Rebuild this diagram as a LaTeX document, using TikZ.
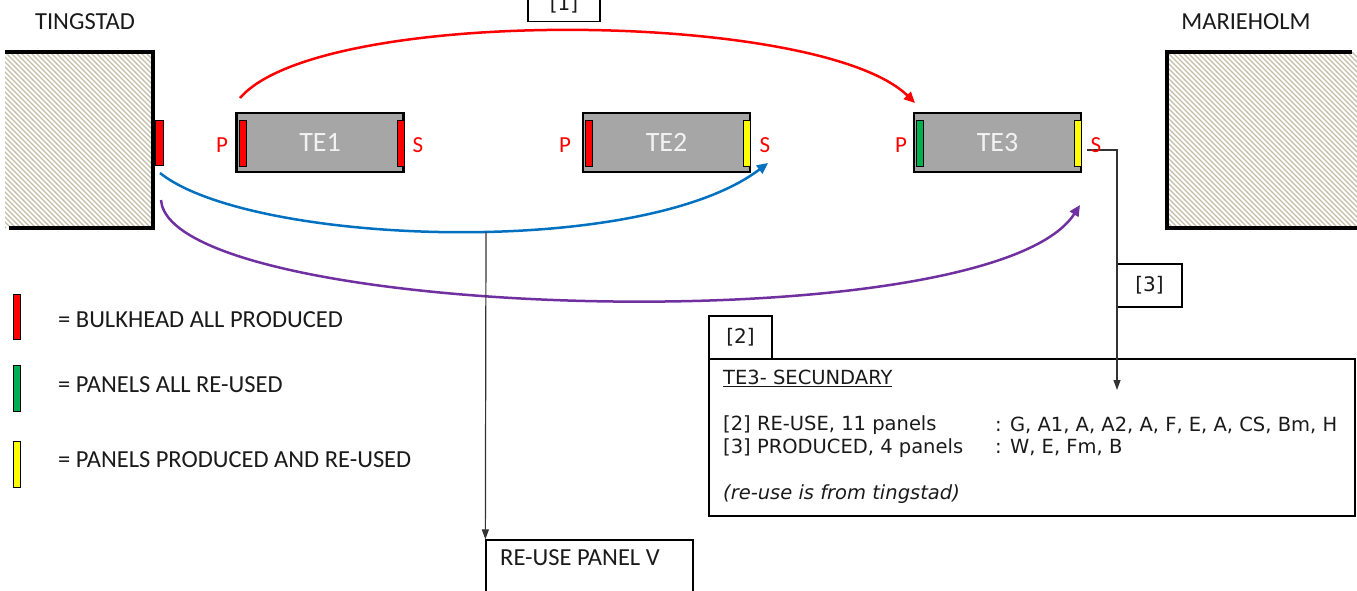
\documentclass[tikz,border=0pt]{standalone}
\usepackage{fontspec}
\setmainfont{Carlito}
\newfontfamily\tah{DejaVu Sans}
\usetikzlibrary{arrows.meta}
\definecolor{txt}{HTML}{1A1A1A}
\definecolor{tegray}{HTML}{A6A6A6}
\definecolor{tewhite}{HTML}{F2F2F2}
\definecolor{bred}{HTML}{FF0000}
\definecolor{bgreen}{HTML}{00B050}
\definecolor{byellow}{HTML}{FFFF00}
\definecolor{fblue}{HTML}{0070C0}
\definecolor{fpurple}{HTML}{7030A0}
\definecolor{hatch}{HTML}{C4BDA6}
\definecolor{dline}{HTML}{333333}
\begin{document}
\begin{tikzpicture}[x=1pt,y=-1pt,
  lbl/.style={font=\fontsize{24.5}{28}\selectfont, text=txt, inner sep=0},
  te/.style={draw=black, line width=2.5pt, fill=tegray, minimum width=167pt,
    minimum height=59pt, inner sep=0, text=tewhite, font=\fontsize{28}{32}\selectfont},
  bar/.style={draw=black, line width=0.8pt, minimum width=7pt, minimum height=46pt, inner sep=0},
  ps/.style={text=bred, font=\fontsize{23}{26}\selectfont, inner sep=0},
  flow/.style={line width=2.5pt, -{Triangle[length=11pt,width=10pt]}},
  conn/.style={line width=1.2pt, draw=dline, -{Triangle[length=10pt,width=7pt]}},
  tag/.style={draw=black, line width=1.8pt, minimum height=43pt, inner sep=0},
  tagtxt/.style={font=\tah\fontsize{20}{24}\selectfont, text=txt, inner sep=0},
  boxtxt/.style={font=\tah\fontsize{19.5}{23}\selectfont, text=txt, inner sep=0, anchor=west},
  hatchline/.style={draw=hatch, line width=1.2pt},
  wall/.style={line width=4pt, draw=black}
]
\useasboundingbox (0,0) rectangle (1357,590);

% site buildings, hatched
\begin{scope}
  \clip (5,52) rectangle (153,228);
  \foreach \i in {-180,-175,...,160} \draw[hatchline] (5+\i,52) -- ++(176,176);
\end{scope}
\draw[wall] (5,52) -| (153,228) -- (9,228);
\node[lbl] (ting) at (85,22) {TINGSTAD};
\node[bar, fill=bred, minimum width=8pt, minimum height=45pt] (tingbulk) at (159,142.5) {};

\begin{scope}
  \clip (1167,52) rectangle (1357,228);
  \foreach \i in {-180,-175,...,200} \draw[hatchline] (1167+\i,52) -- ++(176,176);
\end{scope}
\draw[wall] (1352,52) -- (1167,52) -- (1167,228) -- (1357,228);
\node[lbl] (marie) at (1246,22) {MARIEHOLM};

% transport units
\node[te] (te1) at (320,142.5) {TE1};
\node[bar, fill=bred] (te1p) at (242.5,143) {};
\node[bar, fill=bred] (te1s) at (400.5,143) {};
\node[ps] (p1) at (222,145) {P};
\node[ps] (s1) at (418,145) {S};

\node[te] (te2) at (666.5,142.5) {TE2};
\node[bar, fill=bred] (te2p) at (589,143) {};
\node[bar, fill=byellow] (te2s) at (746.5,143) {};
\node[ps] (p2) at (565,145) {P};
\node[ps] (s2) at (765,145) {S};

\node[te] (te3) at (997.5,142.5) {TE3};
\node[bar, fill=bgreen] (te3p) at (920,143) {};
\node[bar, fill=byellow] (te3s) at (1077.5,143) {};
\node[ps] (p3) at (901,145) {P};

% tags
\node[tag, minimum width=72pt] (tag1) at (564,0) {};
\node[tagtxt] (tag1t) at (tag1.center) [yshift=-4pt] {[1]};
\node[tag, minimum width=63pt] (tag2) at (740.5,337.5) {};
\node[tagtxt] (tag2t) at (tag2.center) {[2]};
\node[tag, minimum width=65pt] (tag3) at (1149.5,285.5) {};
\node[tagtxt] (tag3t) at (tag3.center) {[3]};

% flows
\coordinate (r0) at (240,98);
\coordinate (r1) at (915,103);
\draw[flow, bred] (r0) .. controls (320,5) and (820,10) .. (r1);
\coordinate (b0) at (160,173);
\coordinate (b1) at (768,163);
\draw[flow, fblue] (b0) .. controls (250,245) and (640,260) .. (b1);
\coordinate (v0) at (161,200);
\coordinate (v1) at (1080,205);
\draw[flow, fpurple] (v0) .. controls (170,320) and (990,345) .. (v1);

% re-use panel V
\node[draw=black, line width=1.3pt, minimum width=207pt, minimum height=60pt, inner sep=0] (reuse) at (589.5,570) {};
\node[lbl, anchor=west] (reusetxt) at (500,558) {RE-USE PANEL V};
\coordinate (bj) at (486,232);
\draw[conn] (bj) -- (reuse.north west);

% secondary summary box
\node[draw=black, line width=1.3pt, minimum width=646pt, minimum height=157pt, inner sep=0] (summary) at (1032,437.5) {};
\node[boxtxt] (sumhead) at (723,378) {\underline{TE3- SECUNDARY}};
\node[boxtxt] (row2) at (723,425) {[2] RE-USE, 11 panels};
\node[boxtxt] (row2v) at (995,425) {: G, A1, A, A2, A, F, E, A, CS, Bm, H};
\node[boxtxt] (row3) at (723,448) {[3] PRODUCED, 4 panels};
\node[boxtxt] (row3v) at (995,448) {: W, E, Fm, B};
\node[boxtxt] (note) at (723,494) {\itshape (re-use is from tingstad)};

% produced panels connector
\coordinate (s3) at (1087,150);
\coordinate (d3) at (1117,390);
\draw[conn] (s3) -- (s3 -| d3) -- (d3);
\node[ps] (s3lbl) at (1096,145) {S};

% legend
\node[bar, fill=bred, minimum height=45pt] (legr) at (17,316.5) {};
\node[bar, fill=bgreen, minimum height=46pt] (legg) at (17,388) {};
\node[bar, fill=byellow, minimum height=46pt] (legy) at (17,464) {};
\node[lbl, anchor=west] (legrt) at (58,320) {= BULKHEAD ALL PRODUCED};
\node[lbl, anchor=west] (leggt) at (58,385) {= PANELS ALL RE-USED};
\node[lbl, anchor=west] (legyt) at (58,460) {= PANELS PRODUCED AND RE-USED};
\end{tikzpicture}
\end{document}
